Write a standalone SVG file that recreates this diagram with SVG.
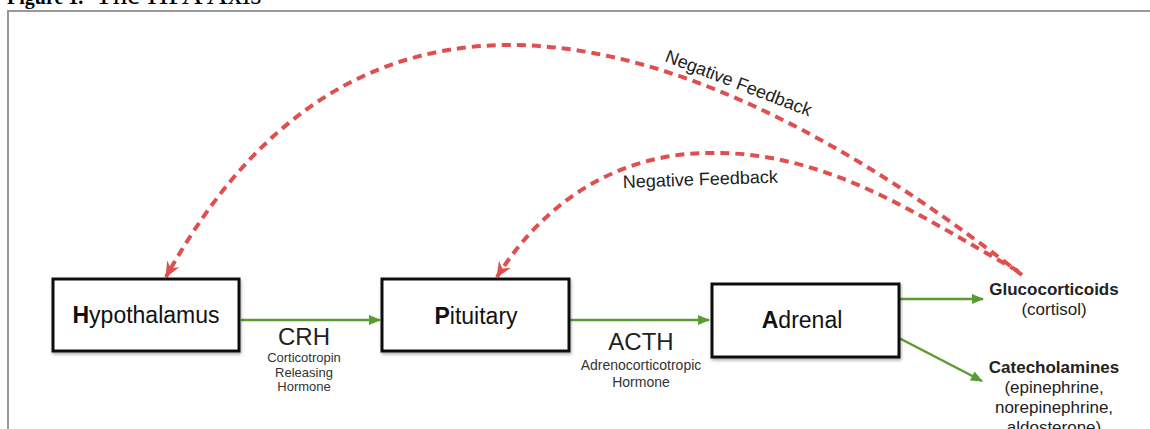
<svg xmlns="http://www.w3.org/2000/svg" width="1150" height="429" viewBox="0 0 1150 429">
<style>
.box{fill:#fff;stroke:#111;stroke-width:3;filter:url(#sh)}
.lbl{font-family:"Liberation Sans",Arial,sans-serif;font-size:23px;fill:#111;text-anchor:middle}
.big{font-family:"Liberation Sans",Arial,sans-serif;font-size:24px;fill:#222;text-anchor:middle}
.small{font-family:"Liberation Sans",Arial,sans-serif;font-size:13px;fill:#333;text-anchor:middle}
.mid{font-family:"Liberation Sans",Arial,sans-serif;font-size:14px;fill:#333;text-anchor:middle}
.out{font-family:"Liberation Sans",Arial,sans-serif;font-size:17px;fill:#222;text-anchor:middle}
.fb{font-family:"Liberation Sans",Arial,sans-serif;font-size:18px;fill:#222}
.g{stroke:#5a9b32;stroke-width:2.5;fill:none;marker-end:url(#ga)}
.r{stroke:#e04f4f;stroke-width:4;fill:none;stroke-dasharray:9 6;marker-end:url(#ra)}
.title{font-family:"Liberation Serif","Times New Roman",serif;fill:#000}
</style>
<defs>
<filter id="sh" x="-10%" y="-10%" width="120%" height="130%">
<feDropShadow dx="1" dy="2" stdDeviation="1.5" flood-color="#000" flood-opacity="0.3"/>
</filter>
<marker id="ga" viewBox="0 0 12 10" refX="11" refY="5" markerWidth="12" markerHeight="10" markerUnits="userSpaceOnUse" orient="auto">
<path d="M0,0 L12,5 L0,10 Z" fill="#5a9b32"/>
</marker>
<marker id="ra" viewBox="0 0 16 14" refX="15" refY="7" markerWidth="16" markerHeight="14" markerUnits="userSpaceOnUse" orient="auto">
<path d="M0,0 L16,7 L0,14 L5,7 Z" fill="#e04f4f"/>
</marker>
</defs>
<rect width="1150" height="429" fill="#fff"/>
<g id="title">
<text class="title" x="7" y="4" font-size="20" font-weight="bold">Figure 1.</text>
<text class="title" x="95" y="4" font-size="29">The HPA Axis</text>
</g>
<rect id="frame" x="8" y="11" width="1160" height="430" fill="none" stroke="#999" stroke-width="2"/>
<g id="connectors">
<line class="g" x1="241" y1="320" x2="380" y2="320"/>
<line class="g" x1="570" y1="320" x2="709" y2="320"/>
<line class="g" x1="899" y1="299" x2="983" y2="299"/>
<line class="g" x1="899" y1="338" x2="982" y2="381"/>
<path class="r" d="M1022,275 C900,180 700,45 510,45 C330,45 228,165 166,277"/>
<path class="r" d="M1018,271 C925,220 830,151 710,153 C620,153 545,200 497,277"/>
</g>
<g id="hypothalamus">
<rect class="box" x="53" y="279" width="186" height="72"/>
<text class="lbl" x="146" y="323"><tspan font-weight="bold">H</tspan>ypothalamus</text>
</g>
<g id="pituitary">
<rect class="box" x="382" y="279" width="187" height="72"/>
<text class="lbl" x="476" y="324"><tspan font-weight="bold">P</tspan>ituitary</text>
</g>
<g id="adrenal">
<rect class="box" x="712" y="284" width="187" height="73"/>
<text class="lbl" x="802" y="328"><tspan font-weight="bold">A</tspan>drenal</text>
</g>
<g id="crh">
<text class="big" x="304" y="345">CRH</text>
<text class="small" x="304" y="362">Corticotropin</text>
<text class="small" x="304" y="377">Releasing</text>
<text class="small" x="304" y="391">Hormone</text>
</g>
<g id="acth">
<text class="big" x="641" y="350">ACTH</text>
<text class="mid" x="641" y="370">Adrenocorticotropic</text>
<text class="mid" x="641" y="387">Hormone</text>
</g>
<g id="glucocorticoids">
<text class="out" x="1054" y="295" font-weight="bold">Glucocorticoids</text>
<text class="out" x="1054" y="315">(cortisol)</text>
</g>
<g id="catecholamines">
<text class="out" x="1054" y="373" font-weight="bold">Catecholamines</text>
<text class="out" x="1054" y="393">(epinephrine,</text>
<text class="out" x="1054" y="413">norepinephrine,</text>
<text class="out" x="1054" y="433">aldosterone)</text>
</g>
<g id="feedback-labels">
<text class="fb" transform="translate(664,61) rotate(21)">Negative Feedback</text>
<text class="fb" transform="translate(623,188) rotate(-2)">Negative Feedback</text>
</g>
</svg>
